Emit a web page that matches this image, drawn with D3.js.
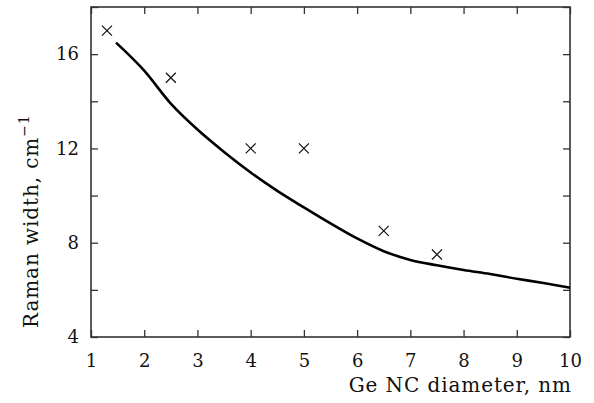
<!DOCTYPE html>
<html>
<head>
<meta charset="utf-8">
<script src="https://cdn.jsdelivr.net/npm/d3@7"></script>
<style>
  body { margin: 0; background: #fff; }
  svg text { font-family: "DejaVu Serif", "Liberation Serif", serif; fill: #111; }
</style>
</head>
<body>
<div id="chart"></div>
<script>
// measured points (crosses)
const pointX = [1.3, 2.5, 4, 5, 6.5, 7.5];
const pointY = [17, 15, 12, 12, 8.5, 7.5];

// model curve
const curveX = [1.47, 2, 2.5, 3, 3.5, 4, 4.5, 5, 5.5, 6, 6.5, 7, 7.5, 8, 8.5, 9, 9.5, 10];
const curveY = [16.49, 15.3, 13.9, 12.8, 11.85, 10.98, 10.2, 9.5, 8.82, 8.18, 7.64, 7.27, 7.04, 6.84, 6.67, 6.47, 6.29, 6.09];

const xTicks = [1, 2, 3, 4, 5, 6, 7, 8, 9, 10];
const yTicks = [4, 6, 8, 10, 12, 14, 16, 18];
const yLabels = [4, 8, 12, 16];

const W = 594, H = 403;
const margin = { top: 7, right: 24, bottom: 66, left: 91 };
const width = W - margin.left - margin.right;
const height = H - margin.top - margin.bottom;

const svg = d3.select('#chart')
  .append('svg')
  .attr('width', W)
  .attr('height', H)
  .append('g')
  .attr('transform', `translate(${margin.left},${margin.top})`);

const x = d3.scaleLinear().domain([1, 10]).range([0, width]);
const y = d3.scaleLinear().domain([4, 18]).range([height, 0]);

const tickLen = 7;
const axisColor = '#333';
const serif = '"DejaVu Serif", "Liberation Serif", serif';

// ticks on all four sides, pointing inward
function addAxis(axis, transform) {
  const g = svg.append('g').attr('transform', transform).call(axis);
  g.attr('font-family', serif);
  g.select('.domain').remove();
  g.selectAll('line').attr('stroke', axisColor).attr('stroke-width', 1.3);
  return g;
}

addAxis(d3.axisBottom(x).tickValues(xTicks).tickSizeInner(-tickLen).tickSizeOuter(0)
  .tickFormat(d => d).tickPadding(17), `translate(0,${height})`)
  .selectAll('text').attr('font-size', 18).attr('fill', '#111');

addAxis(d3.axisTop(x).tickValues(xTicks).tickSizeInner(-tickLen).tickSizeOuter(0).tickFormat(''), 'translate(0,0)');

addAxis(d3.axisLeft(y).tickValues(yTicks).tickSizeInner(-tickLen).tickSizeOuter(0)
  .tickFormat(d => yLabels.includes(d) ? d : '').tickPadding(12), 'translate(0,0)')
  .selectAll('text').attr('font-size', 18).attr('fill', '#111');

addAxis(d3.axisRight(y).tickValues(yTicks).tickSizeInner(-tickLen).tickSizeOuter(0).tickFormat(''), `translate(${width},0)`);

// frame
svg.append('rect')
  .attr('width', width)
  .attr('height', height)
  .attr('fill', 'none')
  .attr('stroke', axisColor)
  .attr('stroke-width', 1.6);

// curve
const line = d3.line()
  .x(d => x(d[0]))
  .y(d => y(d[1]))
  .curve(d3.curveMonotoneX);

svg.append('path')
  .datum(curveX.map((v, i) => [v, curveY[i]]))
  .attr('d', line)
  .attr('fill', 'none')
  .attr('stroke', '#000')
  .attr('stroke-width', 2.6);

// crosses
const s = 5;
svg.selectAll('.pt')
  .data(pointX.map((v, i) => [v, pointY[i]]))
  .enter()
  .append('path')
  .attr('class', 'pt')
  .attr('transform', d => `translate(${x(d[0])},${y(d[1])})`)
  .attr('d', `M${-s},${-s}L${s},${s}M${-s},${s}L${s},${-s}`)
  .attr('stroke', '#111')
  .attr('stroke-width', 1.2);

// axis titles
svg.append('text')
  .attr('x', width + 2)
  .attr('y', height + 55)
  .attr('text-anchor', 'end')
  .attr('font-size', 20)
  .attr('letter-spacing', 0.9)
  .text('Ge NC diameter, nm');

const yt = svg.append('text')
  .attr('transform', `translate(${-53},${height - 9}) rotate(-90)`)
  .attr('text-anchor', 'start')
  .attr('font-size', 20)
  .attr('letter-spacing', 0.9);
yt.append('tspan').text('Raman width, cm');
yt.append('tspan').attr('dy', -9).attr('font-size', 14).text('−1');
</script>
</body>
</html>
